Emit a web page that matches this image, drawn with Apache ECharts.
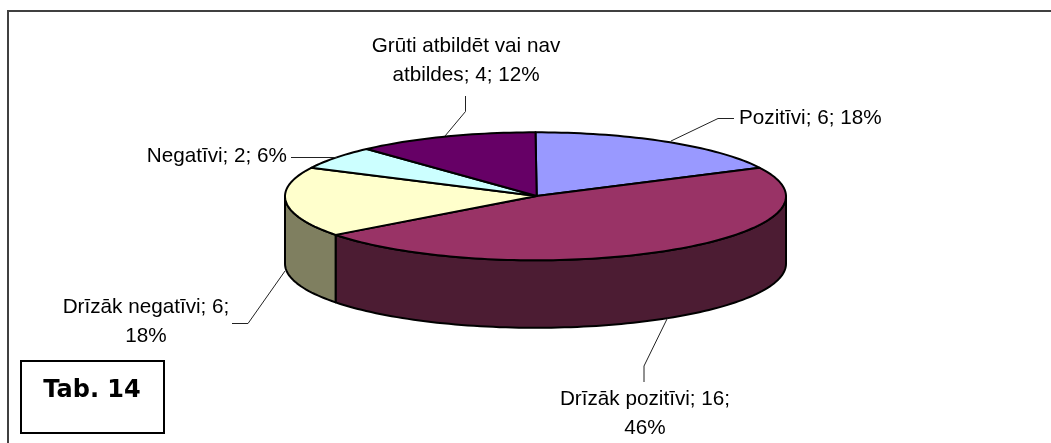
<!DOCTYPE html>
<html><head><meta charset="utf-8">
<style>html,body{margin:0;padding:0;background:#fff}#c{width:1051px;height:443px}</style>
<script src="https://cdn.jsdelivr.net/npm/echarts@6/dist/echarts.min.js"></script>
</head><body><div id="c"></div>
<script>
const categories = ['Pozitīvi','Drīzāk pozitīvi','Drīzāk negatīvi','Negatīvi','Grūti atbildēt vai nav atbildes'];
const seriesValues = [6,16,6,2,4];
const percentLabels = ['18%','46%','18%','6%','12%'];
const topColors = ['#9999FF','#993366','#FFFFCC','#CCFFFF','#660066'];
const sideColors = ['#4C4C7F','#4C1C33','#7F7F60','#667F7F','#330033'];

const CX=535.5, CY=196.3, RX=250.5, RY=64, DEPTH=67.5, APEX=[536.7,196];
const total = seriesValues.reduce((a,b)=>a+b,0);
const pt=(deg,dy)=>{const r=deg*Math.PI/180;return [CX+RX*Math.sin(r),CY-RY*Math.cos(r)+(dy||0)];};
const bounds = i=>{let s=0;for(let k=0;k<i;k++)s+=seriesValues[k];return [s/total*360,(s+seriesValues[i])/total*360];};
const arc=(a,b,dy)=>{const n=Math.max(2,Math.ceil((b-a)/1.5)),o=[];for(let k=0;k<=n;k++)o.push(pt(a+(b-a)*k/n,dy));return o;};

const labelLayout = [
 {lines:['Pozitīvi; 6; 18%'],x:739,y:118,align:'left',lead:[[734,118.5],[718,118.5],[671,141]]},
 {lines:['Drīzāk pozitīvi; 16;','46%'],x:645,y:399,align:'center',lead:[[644,382],[644,366],[667.5,318]]},
 {lines:['Drīzāk negatīvi; 6;','18%'],x:146,y:307,align:'center',lead:[[232,323.5],[248,323.5],[285,271]]},
 {lines:['Negatīvi; 2; 6%'],x:287,y:156,align:'right',lead:[[291,157.5],[337,157.5]]},
 {lines:['Grūti atbildēt vai nav','atbildes; 4; 12%'],x:466,y:46,align:'center',lead:[[465.5,96],[465.5,111.5],[445,136]]}
];
const BLACK={stroke:'#000',lineWidth:2,lineJoin:'round'};
const sideItem=(p,api)=>{
  const i=api.value(0),[a,b]=bounds(i);
  const s=Math.max(a,90),e=Math.min(b,270);
  if(e<=s) return {type:'group',children:[]};
  const pts=arc(s,e,0).concat(arc(s,e,DEPTH).reverse());
  return {type:'polygon',shape:{points:pts},style:{fill:sideColors[i],...BLACK}};
};
const topItem=(p,api)=>{
  const i=api.value(0),[a,b]=bounds(i);
  return {type:'polygon',shape:{points:[APEX].concat(arc(a,b,0))},style:{fill:topColors[i],...BLACK}};
};
const labelItem=(p,api)=>{
  const i=api.value(0),L=labelLayout[i];
  const kids=[{type:'polyline',shape:{points:L.lead},style:{stroke:'#222',lineWidth:1,fill:null}}];
  L.lines.forEach((t,k)=>kids.push({type:'text',style:{text:t,x:L.x,y:L.y+k*29.5,align:L.align,verticalAlign:'middle',
     font:'20.7px "Liberation Sans", Arial, sans-serif',fill:'#000'}}));
  return {type:'group',children:kids};
};
const rows=seriesValues.map((v,i)=>[i,v,categories[i],percentLabels[i]]);
const chart=echarts.init(document.getElementById('c'),null,{renderer:'canvas'});
chart.setOption({
  animation:false,
  backgroundColor:'#fff',
  graphic:[
    {type:'polyline',silent:true,z:0,shape:{points:[[8,443],[8,11],[1051,11]]},style:{stroke:'#404040',lineWidth:2,fill:null}},
    {type:'rect',silent:true,z:10,shape:{x:21,y:361,width:143,height:72},style:{fill:'#fff',stroke:'#000',lineWidth:2}},
    {type:'text',silent:true,z:11,style:{text:'Tab. 14',x:92,y:391,align:'center',verticalAlign:'middle',font:'bold 24px "DejaVu Sans", Verdana, sans-serif',fill:'#000'}}
  ],
  series:[
    {type:'custom',coordinateSystem:'none',z:2,data:rows,renderItem:sideItem,silent:true},
    {type:'custom',coordinateSystem:'none',z:3,data:rows,renderItem:topItem,silent:true},
    {type:'custom',coordinateSystem:'none',z:4,data:rows,renderItem:labelItem,silent:true}
  ]
});
</script></body></html>
